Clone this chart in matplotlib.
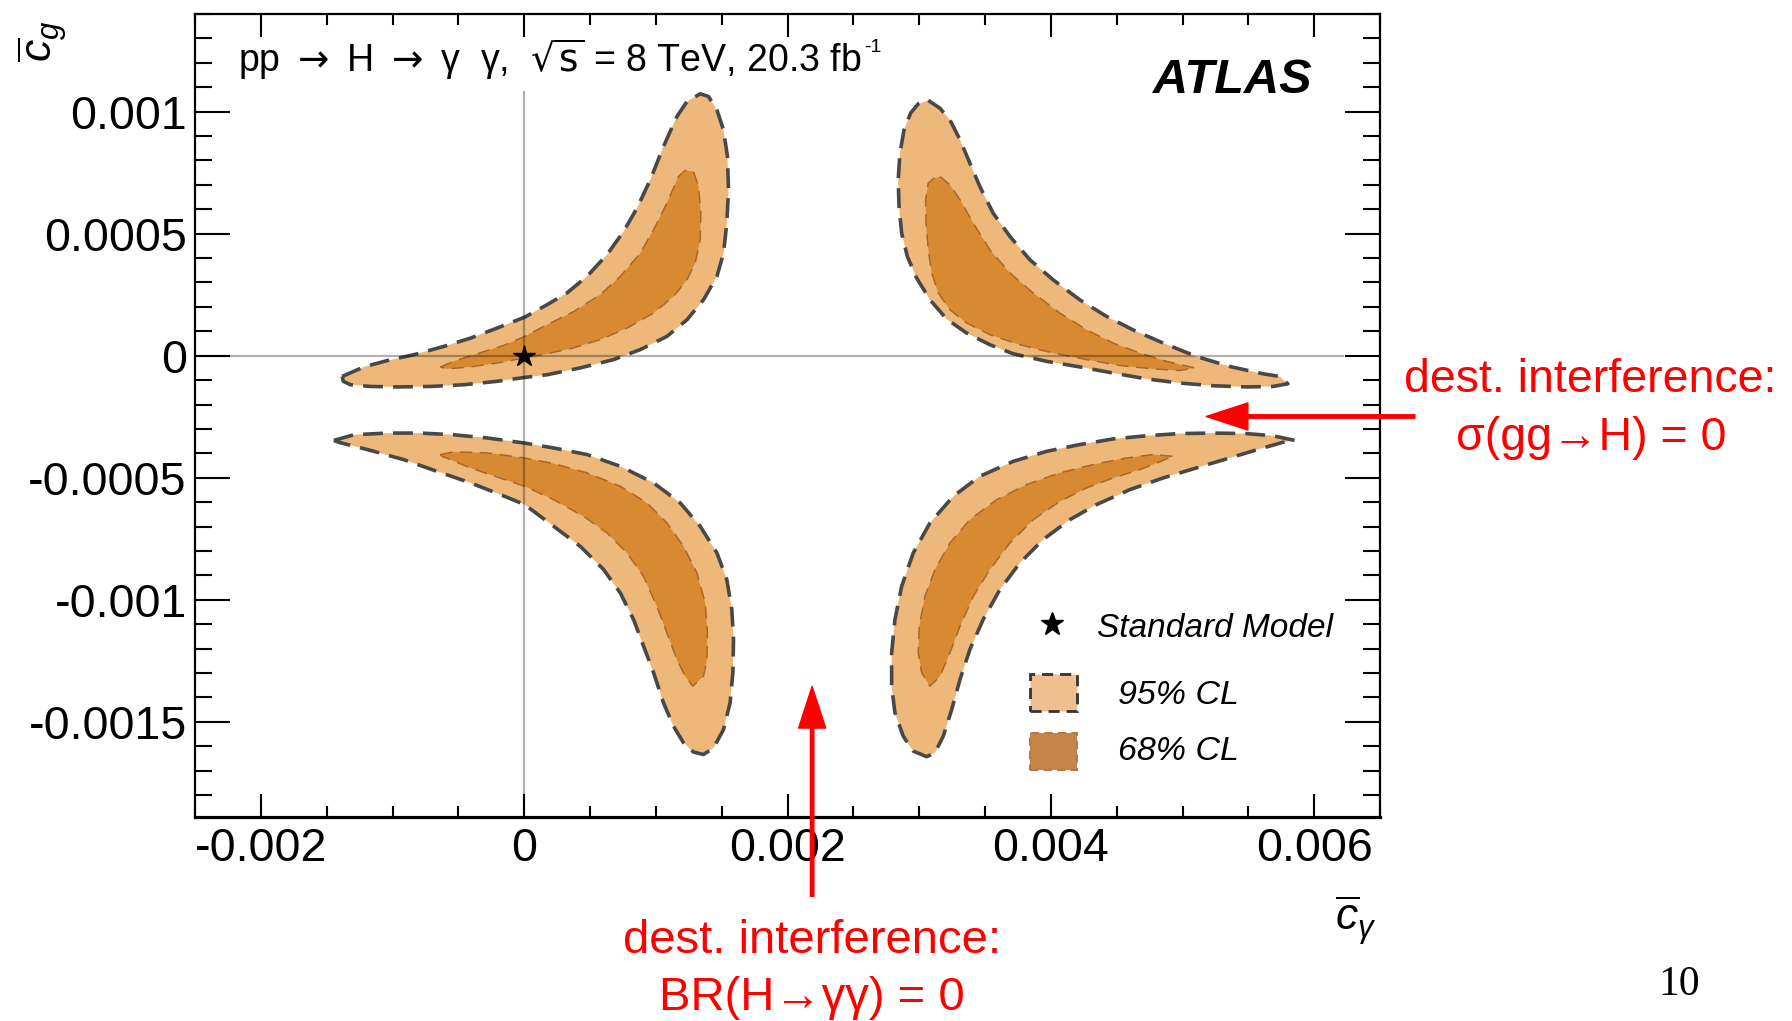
import matplotlib
matplotlib.use("Agg")
import matplotlib.pyplot as plt
from matplotlib.patches import Polygon, Rectangle
from matplotlib.lines import Line2D
from matplotlib.ticker import MultipleLocator
import numpy as np

plt.rcParams['font.family'] = ['Liberation Sans', 'DejaVu Sans']
plt.rcParams['mathtext.fontset'] = 'custom'
plt.rcParams['mathtext.rm'] = 'Liberation Sans'
plt.rcParams['mathtext.it'] = 'Liberation Sans:italic'
plt.rcParams['mathtext.bf'] = 'Liberation Sans:bold'
plt.rcParams['mathtext.sf'] = 'Liberation Sans'

# ---------------- data (contour outlines, units of 1e-3) ----------------
UNIT = 1e-3

# upper-left region
ul95_cgam = [-1.382, -1.218, -1.040, -0.838, -0.611, -0.408, -0.206, 0.004, 0.174, 0.325,
             0.477, 0.629, 0.755, 0.857, 0.958, 1.058, 1.160, 1.236, 1.337, 1.400,
             1.464, 1.514, 1.544, 1.552, 1.539, 1.514, 1.464, 1.362, 1.236, 1.084,
             0.882, 0.679, 0.426, 0.174, 0.004, -0.206, -0.459, -0.712, -0.964, -1.167,
             -1.319, -1.374]
ul95_cg = [-0.085, -0.046, -0.020, 0.004, 0.038, 0.072, 0.113, 0.158, 0.209, 0.257,
           0.325, 0.414, 0.509, 0.605, 0.721, 0.857, 0.980, 1.041, 1.073, 1.062,
           1.007, 0.925, 0.816, 0.680, 0.543, 0.420, 0.325, 0.229, 0.147, 0.079,
           0.025, -0.016, -0.050, -0.078, -0.089, -0.105, -0.119, -0.126, -0.128, -0.126,
           -0.119, -0.105]
ul68_cgam = [-0.636, -0.535, -0.357, -0.156, 0.004, 0.174, 0.376, 0.578, 0.730, 0.882,
             0.983, 1.084, 1.172, 1.223, 1.286, 1.324, 1.342, 1.337, 1.299, 1.236,
             1.134, 0.983, 0.781, 0.578, 0.376, 0.174, 0.004, -0.206, -0.408, -0.585]
ul68_cg = [-0.046, -0.023, 0.008, 0.042, 0.079, 0.127, 0.181, 0.250, 0.325, 0.420,
           0.516, 0.625, 0.734, 0.759, 0.755, 0.693, 0.584, 0.475, 0.380, 0.311,
           0.243, 0.175, 0.113, 0.066, 0.032, 0.008, -0.009, -0.030, -0.046, -0.054]

# upper-right region
ur95_cgam = [3.069, 3.158, 3.234, 3.310, 3.385, 3.461, 3.562, 3.689, 3.841, 4.017,
             4.220, 4.423, 4.624, 4.852, 5.105, 5.358, 5.611, 5.737, 5.800, 5.687,
             5.485, 5.231, 4.979, 4.726, 4.473, 4.220, 3.967, 3.714, 3.537, 3.360,
             3.209, 3.082, 2.981, 2.910, 2.867, 2.847, 2.841, 2.854, 2.885, 2.935,
             2.993]
ur95_cg = [1.046, 1.014, 0.966, 0.885, 0.789, 0.693, 0.584, 0.489, 0.393, 0.311,
           0.229, 0.161, 0.106, 0.052, -0.003, -0.044, -0.074, -0.085, -0.115, -0.126,
           -0.128, -0.123, -0.112, -0.095, -0.071, -0.046, -0.023, 0.008, 0.045, 0.093,
           0.150, 0.229, 0.318, 0.407, 0.502, 0.611, 0.721, 0.830, 0.925, 0.994,
           1.032]
ur68_cgam = [3.158, 3.234, 3.310, 3.411, 3.537, 3.689, 3.866, 4.068, 4.271, 4.473,
             4.675, 4.878, 5.093, 4.979, 4.776, 4.524, 4.271, 4.017, 3.765, 3.537,
             3.360, 3.234, 3.145, 3.095, 3.069, 3.052, 3.049, 3.069, 3.107]
ur68_cg = [0.734, 0.700, 0.639, 0.543, 0.434, 0.339, 0.257, 0.175, 0.106, 0.052,
           0.011, -0.023, -0.050, -0.061, -0.054, -0.040, -0.016, 0.011, 0.045, 0.086,
           0.134, 0.188, 0.257, 0.339, 0.434, 0.543, 0.639, 0.707, 0.725]

# lower-left region
ll95_cgam = [-1.445, -1.294, -1.040, -0.788, -0.535, -0.281, 0.004, 0.224, 0.477, 0.730,
             0.983, 1.185, 1.337, 1.464, 1.539, 1.577, 1.590, 1.585, 1.564, 1.514,
             1.438, 1.362, 1.286, 1.210, 1.134, 1.058, 0.983, 0.907, 0.831, 0.730,
             0.603, 0.426, 0.224, 0.004, -0.181, -0.408, -0.661, -0.914, -1.167, -1.319,
             -1.407]
ll95_cg = [-0.347, -0.324, -0.317, -0.317, -0.324, -0.337, -0.358, -0.378, -0.405, -0.453,
           -0.521, -0.603, -0.699, -0.808, -0.917, -1.040, -1.163, -1.299, -1.422, -1.532,
           -1.607, -1.634, -1.624, -1.586, -1.518, -1.422, -1.299, -1.190, -1.081, -0.972,
           -0.876, -0.781, -0.699, -0.610, -0.569, -0.521, -0.474, -0.426, -0.388, -0.367,
           -0.355]
ll68_cgam = [-0.636, -0.535, -0.281, 0.004, 0.224, 0.477, 0.730, 0.932, 1.084, 1.210,
             1.312, 1.375, 1.392, 1.388, 1.362, 1.281, 1.223, 1.160, 1.084, 1.008,
             0.907, 0.781, 0.629, 0.451, 0.224, 0.004, -0.206, -0.408, -0.560, -0.623]
ll68_cg = [-0.405, -0.394, -0.398, -0.419, -0.442, -0.480, -0.535, -0.603, -0.685, -0.781,
           -0.890, -1.013, -1.136, -1.245, -1.313, -1.354, -1.313, -1.245, -1.136, -1.027,
           -0.904, -0.808, -0.726, -0.658, -0.590, -0.535, -0.497, -0.460, -0.426, -0.412]

# lower-right region
lr95_cgam = [5.851, 5.687, 5.485, 5.231, 4.979, 4.726, 4.473, 4.220, 3.967, 3.714,
             3.461, 3.259, 3.082, 2.955, 2.867, 2.816, 2.791, 2.791, 2.816, 2.879,
             2.955, 3.057, 3.120, 3.183, 3.247, 3.310, 3.385, 3.486, 3.613, 3.765,
             3.942, 4.144, 4.347, 4.599, 4.852, 5.105, 5.358, 5.611, 5.762]
lr95_cg = [-0.347, -0.328, -0.319, -0.317, -0.319, -0.328, -0.341, -0.364, -0.392, -0.433,
           -0.494, -0.576, -0.685, -0.808, -0.945, -1.081, -1.217, -1.354, -1.463, -1.559,
           -1.620, -1.643, -1.627, -1.559, -1.450, -1.327, -1.204, -1.081, -0.958, -0.849,
           -0.753, -0.672, -0.610, -0.549, -0.501, -0.460, -0.419, -0.378, -0.355]
lr68_cgam = [4.923, 4.776, 4.574, 4.321, 4.068, 3.816, 3.588, 3.385, 3.234, 3.120,
             3.044, 3.001, 2.993, 3.019, 3.082, 3.158, 3.234, 3.310, 3.411, 3.537,
             3.689, 3.866, 4.068, 4.271, 4.473, 4.675, 4.827, 4.882]
lr68_cg = [-0.412, -0.405, -0.419, -0.446, -0.480, -0.528, -0.590, -0.672, -0.767, -0.876,
           -0.986, -1.108, -1.217, -1.299, -1.354, -1.313, -1.217, -1.108, -0.986, -0.876,
           -0.767, -0.672, -0.597, -0.542, -0.501, -0.467, -0.435, -0.422]

sm_cgam, sm_cg = 0.0, 0.0

x_ticks = [-0.002, 0.0, 0.002, 0.004, 0.006]
x_tick_labels = ['-0.002', '0', '0.002', '0.004', '0.006']
y_ticks = [-0.0015, -0.001, -0.0005, 0.0, 0.0005, 0.001]
y_tick_labels = ['-0.0015', '-0.001', '-0.0005', '0', '0.0005', '0.001']
x_range = (-0.0025, 0.0065)
y_range = (-0.00189, 0.0014)

# annotation targets (data coordinates)
sigma_zero_cg = -0.000249      # horizontal arrow level
sigma_arrow_tip = 0.00518
sigma_arrow_tail = 0.006765
br_zero_cgam = 0.002187        # vertical arrow position
br_arrow_tip = -0.001355
br_arrow_tail = -0.002215

# ---------------- figure ----------------
W, H = 1792, 1021
fig = plt.figure(figsize=(W / 100, H / 100), dpi=100)
ax = fig.add_axes([195 / W, 1 - 817 / H, (1380 - 195) / W, (817 - 14) / H])


def fx(px):
    return px / W


def fy(py):
    return 1 - py / H


C95 = '#EDB879'
C68 = '#D88A33'
E95 = '#484848'
E68 = '#a8672a'

regions = [
    (ul95_cgam, ul95_cg, ul68_cgam, ul68_cg),
    (ur95_cgam, ur95_cg, ur68_cgam, ur68_cg),
    (ll95_cgam, ll95_cg, ll68_cgam, ll68_cg),
    (lr95_cgam, lr95_cg, lr68_cgam, lr68_cg),
]
for x95, y95, x68, y68 in regions:
    p95 = np.column_stack([np.array(x95) * UNIT, np.array(y95) * UNIT])
    p68 = np.column_stack([np.array(x68) * UNIT, np.array(y68) * UNIT])
    ax.add_patch(Polygon(p95, closed=True, facecolor=C95, edgecolor='none', zorder=2))
    ax.add_patch(Polygon(p68, closed=True, facecolor=C68, edgecolor=E68, lw=1.1,
                         linestyle=(0, (8, 5)), joinstyle='round', zorder=3))
    ax.add_patch(Polygon(p95, closed=True, fill=False, edgecolor=E95, lw=2.6,
                         linestyle=(0, (5.5, 2.8)), joinstyle='round', zorder=4))

# reference lines
ax.plot([x_range[0], 0.00622], [0, 0], color='black', alpha=0.3, lw=1.6, zorder=5)
ax.plot([0, 0], [y_range[0], 0.00108], color='black', alpha=0.3, lw=1.6, zorder=5)

# SM point
ax.plot([sm_cgam], [sm_cg], marker='*', ms=16, color='black', lw=0, zorder=6)

ax.set_xlim(*x_range)
ax.set_ylim(*y_range)
ax.set_xticks(x_ticks, x_tick_labels)
ax.set_yticks(y_ticks, y_tick_labels)
ax.xaxis.set_minor_locator(MultipleLocator(0.0005))
ax.yaxis.set_minor_locator(MultipleLocator(0.0001))
ax.tick_params(which='both', direction='in', top=True, right=True, width=1.5, color='black')
ax.tick_params(axis='x', which='major', length=16.5, pad=7.5, labelsize=33.5)
ax.tick_params(axis='x', which='minor', length=8)
ax.tick_params(axis='y', which='major', length=25.5, pad=6, labelsize=33.5)
ax.tick_params(axis='y', which='minor', length=12.5)
for s in ax.spines.values():
    s.set_linewidth(1.6)
ax.spines['bottom'].set_linewidth(2.3)

# axis titles
fig.text(fx(42), fy(20), r'$\overline{c}_{g}$', rotation=90, fontsize=32, ha='center', va='top')
fig.text(fx(1377), fy(893), r'$\overline{c}_{\gamma}$', fontsize=32, ha='right', va='top')

# header text
title = fig.text(fx(238), fy(72),
                 'pp $\\rightarrow$ H $\\rightarrow$ γ  γ,  $\\sqrt{\\mathrm{s}}$ = 8 TeV, 20.3 fb',
                 fontsize=27, ha='left', va='baseline', math_fontfamily='dejavusans')
renderer = fig.canvas.get_renderer()
tb = title.get_window_extent(renderer)
fig.text(tb.x1 / W + 2 / W, fy(52), '-1', fontsize=14, ha='left', va='baseline')

fig.text(fx(1153), fy(93), 'ATLAS', fontsize=35, fontweight='bold', fontstyle='italic',
         ha='left', va='baseline')

# legend (drawn manually)
fig.add_artist(Line2D([fx(1052)], [fy(624)], marker='*', ms=17, color='black', lw=0,
                      transform=fig.transFigure))
fig.text(fx(1097), fy(637), 'Standard Model', fontsize=24, fontstyle='italic', va='baseline')
fig.add_artist(Rectangle((fx(1030), fy(711)), 47 / W, 37 / H, transform=fig.transFigure,
                         facecolor='#EFC08D', edgecolor='#333333', lw=2.0,
                         linestyle=(0, (4, 2.5))))
fig.text(fx(1118), fy(704), '95% CL', fontsize=24.5, fontstyle='italic', va='baseline')
fig.add_artist(Rectangle((fx(1030), fy(770)), 47 / W, 37 / H, transform=fig.transFigure,
                         facecolor='#C4844A', edgecolor='#b57a45', lw=1.5,
                         linestyle=(0, (4, 2.5))))
fig.text(fx(1118), fy(760), '68% CL', fontsize=24.5, fontstyle='italic', va='baseline')

# red annotations
arrow_kw = dict(color='red', width=2.5, headwidth=19.5, headlength=30, shrink=0)
ax.annotate('', xy=(sigma_arrow_tip, sigma_zero_cg), xytext=(sigma_arrow_tail, sigma_zero_cg),
            arrowprops=arrow_kw, annotation_clip=False, zorder=10)
ax.annotate('', xy=(br_zero_cgam, br_arrow_tip), xytext=(br_zero_cgam, br_arrow_tail),
            arrowprops=arrow_kw, annotation_clip=False, zorder=10)

fig.text(fx(1590), fy(392), 'dest. interference:', color='red', fontsize=33.5,
         ha='center', va='baseline')
fig.text(fx(1591), fy(450), 'σ(gg→H) = 0', color='red', fontsize=33.5,
         ha='center', va='baseline')
fig.text(fx(812), fy(953), 'dest. interference:', color='red', fontsize=34,
         ha='center', va='baseline')
fig.text(fx(812), fy(1010), 'BR(H→γγ) = 0', color='red', fontsize=34,
         ha='center', va='baseline')

fig.text(fx(1658), fy(995), '10', family='Liberation Serif', fontsize=30, va='baseline')

fig.savefig('out.png', dpi=100)
